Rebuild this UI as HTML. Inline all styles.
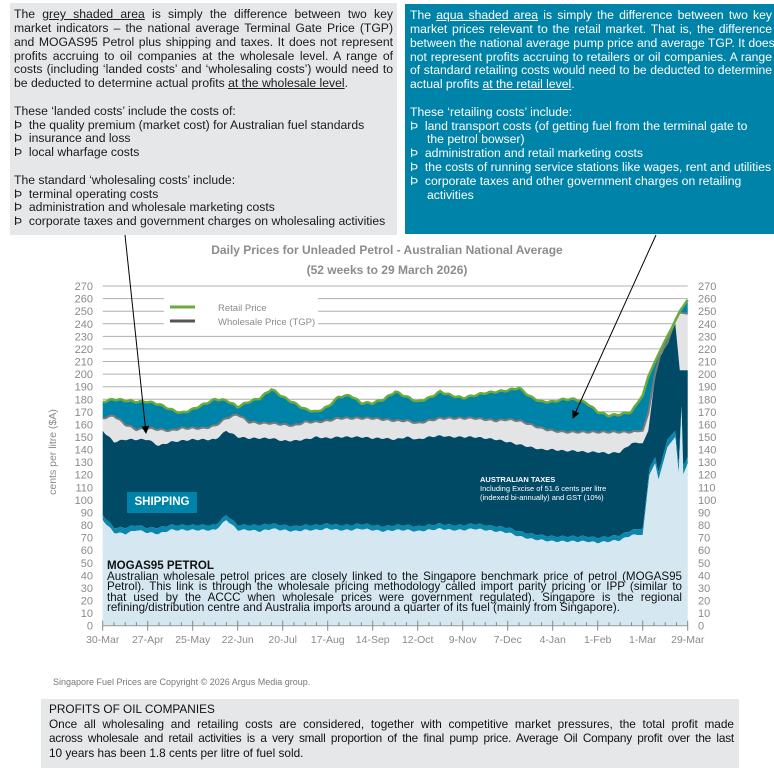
<!DOCTYPE html>
<html><head><meta charset="utf-8">
<style>
*{margin:0;padding:0;box-sizing:border-box}
body{width:774px;height:781px;background:#fff;position:relative;overflow:hidden;font-family:"Liberation Sans",sans-serif;}
.box{position:absolute;}
.ln{position:absolute;white-space:nowrap;font-size:12.2px;line-height:14px;}
.j{text-align:justify;text-align-last:justify;}
u{text-decoration:underline}
.nw div{white-space:nowrap}
</style></head><body>
<div class="box" style="left:10px;top:3px;width:387px;height:232px;background:#e6e7e8"></div>
<div class="box" style="left:405px;top:4px;width:369px;height:230px;background:#0083a8"></div>
<div id="lt" style="position:absolute;left:0;top:0;color:#1a1a1a"></div>
<div id="rt" style="position:absolute;left:0;top:0;color:#fff"></div>
<svg id="ch" width="774" height="781" style="position:absolute;left:0;top:0" xmlns="http://www.w3.org/2000/svg"></svg>
<div class="ln" style="left:0;width:774px;text-align:center;top:243px;color:#8c8c8c;font-weight:bold;font-size:12px">Daily Prices for Unleaded Petrol - Australian National Average</div>
<div class="ln" style="left:0;width:774px;text-align:center;top:263px;color:#8c8c8c;font-weight:bold;font-size:12px">(52 weeks to 29 March 2026)</div>
<div class="nw" style="position:absolute;left:107px;top:561px;width:575px;font-family:'Liberation Sans',sans-serif;font-size:11.6px;line-height:10.6px;color:#111">
<div style="font-weight:bold">MOGAS95 PETROL</div>
<div class="j">Australian wholesale petrol prices are closely linked to the Singapore benchmark price of petrol (MOGAS95</div>
<div class="j">Petrol). This link is through the wholesale pricing methodology called import parity pricing or IPP (similar to</div>
<div class="j">that used by the ACCC when wholesale prices were government regulated). Singapore is the regional</div>
<div>refining/distribution centre and Australia imports around a quarter of its fuel (mainly from Singapore).</div>
</div>
<div style="position:absolute;left:127px;top:492px;width:70px;height:21px;background:#0083a8;color:#fff;font-weight:bold;font-family:'Liberation Sans',sans-serif;font-size:11.5px;line-height:21px;text-align:center">SHIPPING</div>
<div style="position:absolute;left:480px;top:475px;color:#fff;font-family:'Liberation Sans',sans-serif;font-size:7.5px;line-height:9px">
<div style="font-weight:bold">AUSTRALIAN TAXES</div>
<div>Including Excise of 51.6 cents per litre</div>
<div>(indexed bi-annually) and GST (10%)</div></div>
<div class="ln" style="left:53px;top:675px;font-size:9px;color:#777">Singapore Fuel Prices are Copyright © 2026 Argus Media group.</div>
<div class="box" style="left:41px;top:699px;width:698px;height:69px;background:#e6e7e8"></div>
<div class="nw" style="position:absolute;left:49px;top:702px;width:685px;font-size:11.8px;line-height:14.5px;color:#111">
<div>PROFITS OF OIL COMPANIES</div>
<div class="j">Once all wholesaling and retailing costs are considered, together with competitive market pressures, the total profit made</div>
<div class="j" style="letter-spacing:-0.2px">across wholesale and retail activities is a very small proportion of the final pump price. Average Oil Company profit over the last</div>
<div>10 years has been 1.8 cents per litre of fuel sold.</div>
</div>
<script>
function lines(id,x0,w,arr){var h='';arr.forEach(function(a){var y=a[0],t=a[1],j=a[2];
h+='<div class="ln'+(j?' j':'')+'" style="left:'+x0+'px;top:'+(y-7)+'px;'+(j?'width:'+w+'px':'')+'">'+t+'</div>';});
document.getElementById(id).innerHTML=h;}
lines('lt',14,379,[
[14,'The <u>grey shaded area</u> is simply the difference between two key',1],
[28,'market indicators – the national average Terminal Gate Price (TGP)',1],
[42,'and MOGAS95 Petrol plus shipping and taxes. It does not represent',1],
[56,'profits accruing to oil companies at the wholesale level. A range of',1],
[69,'costs (including ‘landed costs’ and ‘wholesaling costs’) would need to',1],
[83,'be deducted to determine actual profits <u>at the wholesale level</u>.'],
[111,'These ‘landed costs’ include the costs of:'],
[125,'Þ&nbsp; the quality premium (market cost) for Australian fuel standards'],
[138,'Þ&nbsp; insurance and loss'],
[152,'Þ&nbsp; local wharfage costs'],
[180,'The standard ‘wholesaling costs’ include:'],
[194,'Þ&nbsp; terminal operating costs'],
[207,'Þ&nbsp; administration and wholesale marketing costs'],
[221,'Þ&nbsp; corporate taxes and government charges on wholesaling activities']]);
lines('rt',410,362,[
[15,'The <u>aqua shaded area</u> is simply the difference between two key',1],
[29,'market prices relevant to the retail market. That is, the difference',1],
[43,'between the national average pump price and average TGP. It does',1],
[57,'not represent profits accruing to retailers or oil companies. A range',1],
[70,'of standard retailing costs would need to be deducted to determine',1],
[84,'actual profits <u>at the retail level</u>.'],
[112,'These ‘retailing costs’ include:'],
[126,'Þ&nbsp; land transport costs (of getting fuel from the terminal gate to'],
[139,'the petrol bowser)'],
[153,'Þ&nbsp; administration and retail marketing costs'],
[167,'Þ&nbsp; the costs of running service stations like wages, rent and utilities'],
[181,'Þ&nbsp; corporate taxes and other government charges on retailing'],
[195,'activities']]);
(function(){var d=document.getElementById('rt').children;if(d[8])d[8].style.left='427px';if(d[12])d[12].style.left='427px';})();

var X0=102.7,XW=11.25,Y0=625.7,YS=1.258;
function X(w){return X0+w*XW} function Y(v){return Y0-v*YS}
function weekly(a){return a.map(function(v,i){return [i,v]})}
var retail=weekly([178,180,179,178,178,176,172,169,172,176,180,179,174,178,181,188,182,177,172,170,174,182,183,177,177,180,186,182,178,181,186,183,181,183,185,186,187,189,182,178,178,180,180,177,170,167,168,170]).concat([[48,183],[48.5,198],[49.1,210],[49.9,225],[50.6,237],[51.3,250],[52,259]]);
var tgp=weekly([165,167,160,156,157,156,155,157,157,157,159,165,168,162,161,161,160,159,162,162,163,165,165,165,165,164,163,163,161,163,165,165,165,165,164,163,164,163,160,157,155,154,154,154,154,154,154,154]).concat([[48,155],[48.5,169],[49.1,200],[49.6,217],[50.2,225],[50.9,243],[51.3,249],[52,248]]);
var tax=weekly([155,146,148,148,148,143,146,147,148,148,148,155,150,149,149,149,147,147,148,150,149,150,150,150,149,149,148,150,148,150,151,150,150,150,149,148,146,144,142,140,140,139,139,138,138,137,138,145]).concat([[47.9,145],[48,145],[48.5,155],[49.1,198],[49.4,211],[50.2,225],[50.9,240],[51.3,203],[52,203]]);
var ship=weekly([88,78,78,80,78,78,80,80,80,80,80,88,80,80,80,81,80,79,80,80,81,80,80,81,80,79,80,80,79,80,81,80,80,81,80,79,78,75,73,72,71,71,71,71,70,71,72,76]).concat([[48,77],[48.6,125],[49.1,134],[49.4,122],[50.2,148],[50.9,155],[51.2,128],[51.45,175],[51.6,127],[52,134]]);
var mog=weekly([84,74,73,76,74,73,76,76,76,76,76,84,76,76,75,77,76,75,76,76,77,76,76,77,76,75,76,76,75,76,77,76,76,77,76,75,74,71,69,68,67,67,67,67,66,67,68,72]).concat([[48,72],[48.6,120],[49.1,129],[49.4,116],[50.2,142],[50.9,150],[51.2,121],[51.45,171],[51.6,120],[52,129]]);
function dense(a){var out=[];for(var i=0;i<a.length-1;i++){var p=a[i],q=a[i+1];var n=Math.max(1,Math.round((q[0]-p[0])*7));for(var k=0;k<n;k++){var t=k/n;var w=p[0]+(q[0]-p[0])*t;var v=p[1]+(q[1]-p[1])*t;if(w<47.5)v+=Math.sin(w*37.1)*0.6;out.push([w,v]);}}out.push(a[a.length-1]);return out;}
var s={r:dense(retail),t:dense(tgp),x:dense(tax),s:dense(ship),m:dense(mog)};
function pts(a){return a.map(function(p){return X(p[0]).toFixed(1)+','+Y(p[1]).toFixed(1)}).join(' ')}
function band(top,bot){var b=bot?bot.slice().reverse():[[52,0],[0,0]];return pts(top)+' '+pts(b);}
var F='font-family="Liberation Sans, sans-serif"';
var h='';
for(var v=0;v<=270;v+=10){var y=Y(v).toFixed(1);
 if(v>0)h+='<line x1="'+X0+'" x2="'+X(52)+'" y1="'+y+'" y2="'+y+'" stroke="#b0b0b0" stroke-width="1"/>';
 h+='<text '+F+' x="93" y="'+(+y+4)+'" text-anchor="end" font-size="11" fill="#8a8a8a">'+v+'</text>';
 h+='<text '+F+' x="698" y="'+(+y+4)+'" font-size="11" fill="#8a8a8a">'+v+'</text>';}
h+='<rect x="164" y="298" width="154" height="27" fill="#fff"/>';
h+='<polygon points="'+band(s.r,s.t)+'" fill="#0083a8"/>';
h+='<polygon points="'+band(s.t,s.x)+'" fill="#e3e4e6"/>';
h+='<polygon points="'+band(s.x,s.s)+'" fill="#004a66"/>';
h+='<polygon points="'+band(s.s,s.m)+'" fill="#0a87ab"/>';
h+='<polygon points="'+band(s.m,null)+'" fill="#d5e7f1"/>';
h+='<polyline points="'+pts(s.t)+'" fill="none" stroke="#7a7a7a" stroke-width="2"/>';
h+='<polyline points="'+pts(s.r)+'" fill="none" stroke="#6aab3c" stroke-width="2.5"/>';
h+='<line x1="'+X0+'" x2="'+X(52)+'" y1="'+Y0+'" y2="'+Y0+'" stroke="#999"/>';
var labs=['30-Mar','27-Apr','25-May','22-Jun','20-Jul','17-Aug','14-Sep','12-Oct','9-Nov','7-Dec','4-Jan','1-Feb','1-Mar','29-Mar'];
for(var w=0;w<=52;w++){var x=X(w).toFixed(1);var big=(w%4==0);
 h+='<line x1="'+x+'" x2="'+x+'" y1="'+(big?Y0-5:Y0-3.5)+'" y2="'+(big?Y0+5:Y0)+'" stroke="#888"/>';}
labs.forEach(function(l,i){h+='<text '+F+' x="'+X(i*4)+'" y="643" text-anchor="middle" font-size="10.5" fill="#8a8a8a">'+l+'</text>';});
h+='<text '+F+' transform="translate(56,452) rotate(-90)" text-anchor="middle" font-size="10.5" fill="#8a8a8a">cents per litre ($A)</text>';
h+='<line x1="170" x2="195" y1="307" y2="307" stroke="#6aab3c" stroke-width="3"/>';
h+='<line x1="170" x2="195" y1="321" y2="321" stroke="#555" stroke-width="3"/>';
h+='<text '+F+' x="218" y="311" font-size="9.5" fill="#8a8a8a">Retail Price</text>';
h+='<text '+F+' x="218" y="325" font-size="9.5" fill="#8a8a8a">Wholesale Price (TGP)</text>';
h+='<defs><marker id="ar" markerWidth="8" markerHeight="8" refX="7" refY="4" orient="auto" markerUnits="userSpaceOnUse"><path d="M0,0 L8,4 L0,8z" fill="#000"/></marker></defs>';
h+='<line x1="125" y1="235" x2="146" y2="433" stroke="#000" stroke-width="1" marker-end="url(#ar)"/>';
h+='<line x1="656" y1="235" x2="573" y2="418" stroke="#000" stroke-width="1" marker-end="url(#ar)"/>';
document.getElementById('ch').innerHTML=h;
</script>
</body></html>
